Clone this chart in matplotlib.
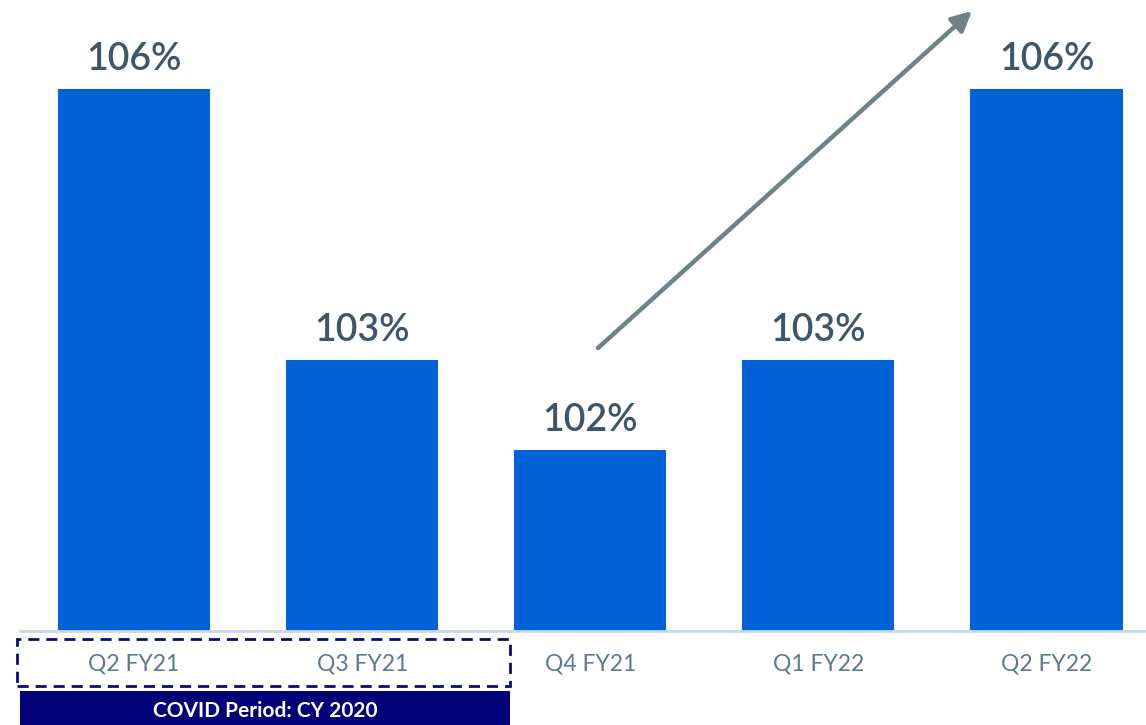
import matplotlib
matplotlib.use("Agg")
import matplotlib.pyplot as plt
from matplotlib.patches import Rectangle, FancyArrowPatch

categories = ["Q2 FY21", "Q3 FY21", "Q4 FY21", "Q1 FY22", "Q2 FY22"]
values = [106, 103, 102, 103, 106]
labels = ["106%", "103%", "102%", "103%", "106%"]
covid_label = "COVID Period: CY 2020"

W, H = 1146, 725
plt.rcParams['font.family'] = ['Lato', 'DejaVu Sans']
fig = plt.figure(figsize=(W / 100, H / 100), dpi=100)

def fx(px):
    return px / W

def fy(py):
    return 1 - py / H

ax = fig.add_axes([fx(20), fy(631), fx(1146) - fx(20), fy(0) - fy(631)])
x = list(range(len(categories)))
ax.bar(x, values, width=0.667, color="#0062d6", zorder=2)
ax.set_xlim(-0.5, 4.436)
ax.set_ylim(100, 106.99)
for s in ["top", "right", "left"]:
    ax.spines[s].set_visible(False)
ax.spines["bottom"].set_color("#c8d8e4")
ax.spines["bottom"].set_linewidth(2)
ax.set_yticks([])
ax.set_xticks(x)
ax.set_xticklabels(categories, fontsize=16.5, color="#5a7a90")
ax.tick_params(axis="x", length=0, pad=16)

for xi, v, lab in zip(x, values, labels):
    ax.annotate(lab, (xi, v), xytext=(0, 9), textcoords="offset points",
                ha="center", va="bottom", fontsize=27, fontweight="semibold",
                color="#3e566c")

# trend arrow
fig.patches.append(FancyArrowPatch(
    (fx(598), fy(348)), (fx(972), fy(11)), transform=fig.transFigure,
    arrowstyle="-|>,head_length=12,head_width=6", mutation_scale=1,
    color="#6f8189", linewidth=3.2, shrinkA=0, shrinkB=0))

# covid dashed box and label box
fig.patches.append(Rectangle((fx(17), fy(686)), fx(510) - fx(17), fy(639) - fy(686),
                             transform=fig.transFigure, fill=False,
                             edgecolor="#0a0a78", linewidth=2, linestyle=(0, (4, 2.5))))
fig.patches.append(Rectangle((fx(20), fy(725)), fx(510) - fx(20), fy(691) - fy(725),
                             transform=fig.transFigure, facecolor="#020178",
                             edgecolor="none"))
fig.text(fx(265), fy(711), covid_label, ha="center", va="center",
         fontsize=15, fontweight="bold", color="white")

fig.savefig("out.png", dpi=100)
